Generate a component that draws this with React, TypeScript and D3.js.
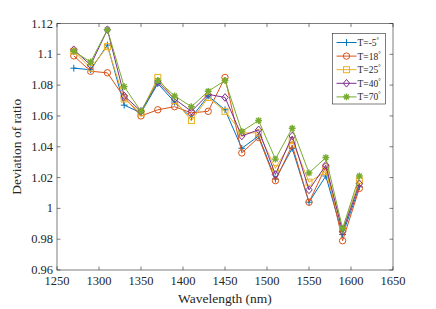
import React from "react";
import * as d3 from "d3";

// wavelengths in nm
const wavelengths = [1270, 1290, 1310, 1330, 1350, 1370, 1390, 1410, 1430, 1450, 1470, 1490, 1510, 1530, 1550, 1570, 1590, 1610];

const tMinus5 = [1.091, 1.090, 1.106, 1.067, 1.062, 1.081, 1.069, 1.059, 1.073, 1.064, 1.039, 1.047, 1.019, 1.039, 1.004, 1.021, 0.983, 1.014];
const t18 = [1.099, 1.089, 1.088, 1.072, 1.060, 1.064, 1.066, 1.062, 1.063, 1.085, 1.036, 1.046, 1.018, 1.041, 1.004, 1.027, 0.979, 1.013];
const t25 = [1.102, 1.091, 1.105, 1.071, 1.062, 1.085, 1.070, 1.057, 1.072, 1.063, 1.049, 1.049, 1.026, 1.044, 1.017, 1.024, 0.986, 1.018];
const t40 = [1.103, 1.093, 1.116, 1.073, 1.063, 1.082, 1.071, 1.063, 1.074, 1.072, 1.047, 1.051, 1.022, 1.047, 1.012, 1.028, 0.985, 1.016];
const t70 = [1.102, 1.095, 1.116, 1.079, 1.063, 1.083, 1.073, 1.066, 1.076, 1.083, 1.050, 1.057, 1.032, 1.052, 1.023, 1.033, 0.987, 1.021];

const seriesLabels = ["-5", "18", "25", "40", "70"];
const xTicks = [1250, 1300, 1350, 1400, 1450, 1500, 1550, 1600, 1650];
const yTicks = [0.96, 0.98, 1, 1.02, 1.04, 1.06, 1.08, 1.1, 1.12];

const W = 436;
const H = 309;
const m = { top: 23.5, right: 43, bottom: 39, left: 57 };
const font = "Liberation Serif";
const axisColor = "#262626";

const series = [
  { name: seriesLabels[0], values: tMinus5, color: "#0072BD", marker: "plus" },
  { name: seriesLabels[1], values: t18, color: "#D95319", marker: "circle" },
  { name: seriesLabels[2], values: t25, color: "#EDB120", marker: "square" },
  { name: seriesLabels[3], values: t40, color: "#7E2F8E", marker: "diamond" },
  { name: seriesLabels[4], values: t70, color: "#77AC30", marker: "star" },
];

const Marker = ({ type, x, y, color }: { type: string; x: number; y: number; color: string }) => {
  const s = 3.4;
  if (type === "plus")
    return <path d={`M${x - s},${y}H${x + s}M${x},${y - s}V${y + s}`} stroke={color} strokeWidth={1} fill="none" />;
  if (type === "circle") return <circle cx={x} cy={y} r={3.2} stroke={color} strokeWidth={1} fill="none" />;
  if (type === "square")
    return <rect x={x - 3} y={y - 3} width={6} height={6} stroke={color} strokeWidth={1} fill="none" />;
  if (type === "diamond")
    return <path d={`M${x},${y - 3.8}L${x + 3.2},${y}L${x},${y + 3.8}L${x - 3.2},${y}Z`} stroke={color} strokeWidth={1} fill="none" />;
  // asterisk
  const d = s * 0.72;
  return (
    <path
      d={`M${x - s},${y}H${x + s}M${x},${y - s}V${y + s}M${x - d},${y - d}L${x + d},${y + d}M${x - d},${y + d}L${x + d},${y - d}`}
      stroke={color}
      strokeWidth={1.4}
      fill="none"
    />
  );
};

export default function App() {
  const x = d3.scaleLinear().domain([1250, 1650]).range([m.left, W - m.right]);
  const y = d3.scaleLinear().domain([0.96, 1.12]).range([H - m.bottom, m.top]);
  const line = d3
    .line<number>()
    .x((_, i) => x(wavelengths[i]))
    .y((d) => y(d));

  const x0 = m.left, x1 = W - m.right, y0 = H - m.bottom, y1 = m.top;
  const tl = 3.5;

  const lg = { x: 332.5, y: 33.5, w: 53, h: 70.5, row: 13.6 };

  return (
    <svg width={W} height={H} style={{ position: "absolute", left: 0, top: 0, background: "#fff", fontFamily: font }}>
      {/* data */}
      {series.map((s) => (
        <g key={s.name}>
          <path d={line(s.values) || ""} stroke={s.color} strokeWidth={1} fill="none" />
          {s.values.map((v, i) => (
            <Marker key={i} type={s.marker} x={x(wavelengths[i])} y={y(v)} color={s.color} />
          ))}
        </g>
      ))}

      {/* axes box */}
      <rect x={x0} y={y1} width={x1 - x0} height={y0 - y1} fill="none" stroke={axisColor} strokeWidth={0.6} />
      {xTicks.map((t) => (
        <g key={t}>
          <line x1={x(t)} x2={x(t)} y1={y0} y2={y0 - tl} stroke={axisColor} strokeWidth={0.6} />
          <line x1={x(t)} x2={x(t)} y1={y1} y2={y1 + tl} stroke={axisColor} strokeWidth={0.6} />
          <text x={x(t)} y={y0 + 15} textAnchor="middle" fontSize={12.5} fill="#262626">
            {t}
          </text>
        </g>
      ))}
      {yTicks.map((t) => (
        <g key={t}>
          <line x1={x0} x2={x0 + tl} y1={y(t)} y2={y(t)} stroke={axisColor} strokeWidth={0.6} />
          <line x1={x1} x2={x1 - tl} y1={y(t)} y2={y(t)} stroke={axisColor} strokeWidth={0.6} />
          <text x={x0 - 4} y={y(t) + 4} textAnchor="end" fontSize={12.5} fill="#262626">
            {d3.format("")(+t.toFixed(2))}
          </text>
        </g>
      ))}

      <text x={(x0 + x1) / 2} y={H - 6} textAnchor="middle" fontSize={13.5} fill="#262626">
        Wavelength (nm)
      </text>
      <text
        transform={`translate(21, ${(y0 + y1) / 2}) rotate(-90)`}
        textAnchor="middle"
        fontSize={13.5}
        fill="#262626"
      >
        Deviation of ratio
      </text>

      {/* legend */}
      <rect x={lg.x} y={lg.y} width={lg.w} height={lg.h} fill="#fff" stroke={axisColor} strokeWidth={0.6} />
      {series.map((s, i) => {
        const ly = lg.y + 9 + i * lg.row;
        return (
          <g key={s.name}>
            <line x1={lg.x + 4} x2={lg.x + 24} y1={ly} y2={ly} stroke={s.color} strokeWidth={1} />
            <Marker type={s.marker} x={lg.x + 14} y={ly} color={s.color} />
            <text x={lg.x + 25} y={ly + 3.5} fontSize={9.5} fill="#262626">
              T={s.name}
              <tspan fontSize={6} dy={-4}>°</tspan>
            </text>
          </g>
        );
      })}
    </svg>
  );
}
